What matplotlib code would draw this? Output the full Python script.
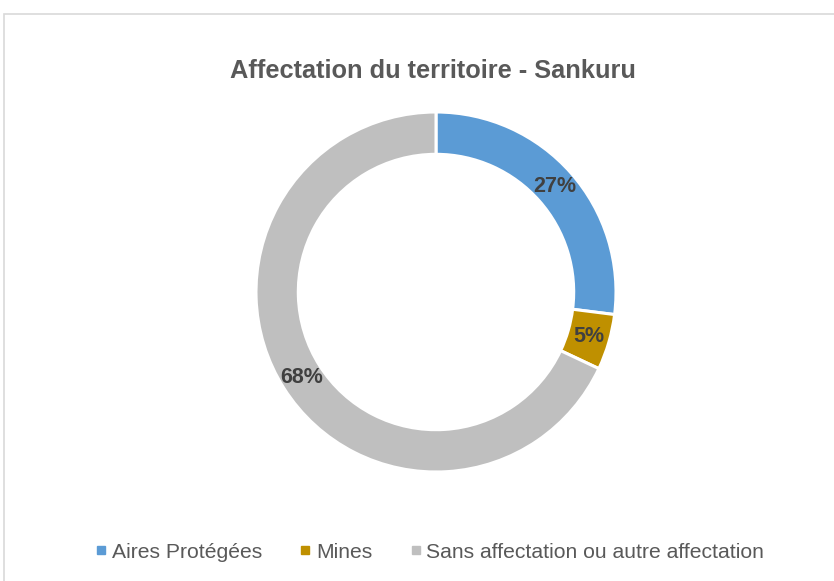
import matplotlib.pyplot as plt
import numpy as np
from matplotlib.lines import Line2D
from matplotlib.patches import Rectangle

plt.rcParams['font.family'] = ['Liberation Sans', 'DejaVu Sans']

# donnees
categories = ["Aires Protégées", "Mines", "Sans affectation ou autre affectation"]
valeurs = [27, 5, 68]
couleurs = ["#5B9BD5", "#BF9000", "#BFBFBF"]
titre = "Affectation du territoire - Sankuru"

W, H = 834, 581
fig = plt.figure(figsize=(W / 100, H / 100), dpi=100)

# cadre gris clair (coupe a droite et en bas)
fig.patches.append(Rectangle((4 / W, -0.1), 1.2, (H - 14) / H + 0.1, transform=fig.transFigure,
                             fill=False, edgecolor="#D9D9D9", linewidth=1.2))

# axe centre sur le donut
cx, cy, R = 436, 292, 180
half = 200
ax = fig.add_axes([(cx - half) / W, (H - cy - half) / H, 2 * half / W, 2 * half / H])

largeur = 0.235
wedges, _ = ax.pie(valeurs, colors=couleurs, startangle=90, counterclock=False, radius=1,
                   wedgeprops=dict(width=largeur, edgecolor='white', linewidth=2.2))
lim = half / R
ax.set_xlim(-lim, lim)
ax.set_ylim(-lim, lim)
ax.set_aspect('equal')
ax.axis('off')

total = sum(valeurs)
angle = 90.0
for v in valeurs:
    a = angle - 360 * v / total / 2
    angle -= 360 * v / total
    r = 1 - largeur / 2
    ax.text(r * np.cos(np.radians(a)), r * np.sin(np.radians(a)), f"{v}%",
            ha='center', va='center', fontsize=15.5, fontweight='bold', color='#404040')

fig.text(433 / W, 1 - 71 / H, titre, ha='center', va='center', fontsize=18.3,
         fontweight='bold', color='#595959')

handles = [Line2D([], [], marker='s', linestyle='none', markersize=6, color=c) for c in couleurs]
fig.legend(handles, categories, loc='center', bbox_to_anchor=(430 / W, 1 - 552 / H), ncol=3,
           frameon=False, fontsize=15.2, labelcolor='#595959', handlelength=0.5,
           handletextpad=0.25, columnspacing=1.8)

fig.savefig("out.png", dpi=100)
